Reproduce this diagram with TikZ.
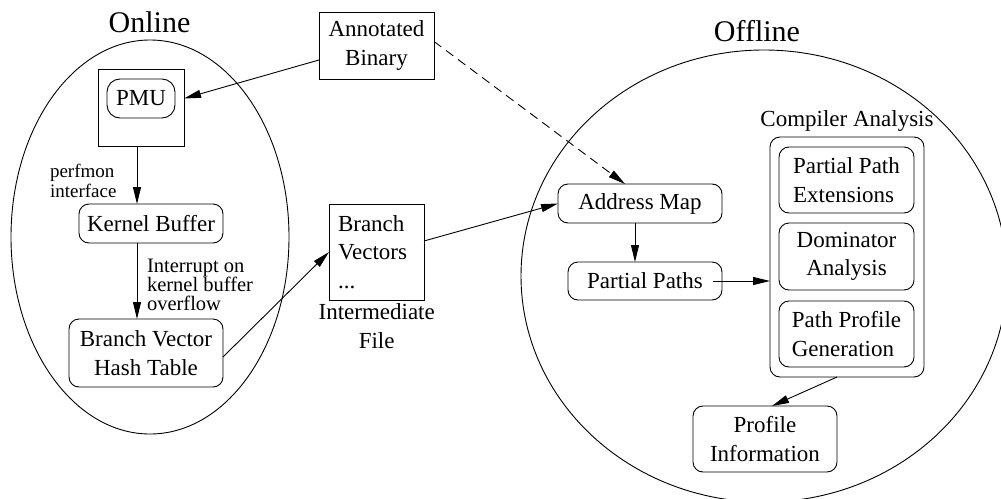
\documentclass[tikz,border=0pt]{standalone}
\usepackage{fontspec}
\setmainfont{Liberation Serif}
\usetikzlibrary{arrows.meta,calc}
\begin{document}
\begin{tikzpicture}[x=1pt,y=-1pt, line width=0.9pt,
 every node/.style={inner sep=0pt, outer sep=0pt},
 txt/.style={font=\fontsize{23}{28.5}\selectfont},
 rbox/.style={draw, rounded corners=10pt, txt, align=center},
 sbox/.style={draw, txt, align=center},
 arr/.style={-{Triangle[length=17pt,width=8pt]}},
 dashline/.style={dash pattern=on 9pt off 6pt},
]
\useasboundingbox (0,0) rectangle (1001,498);
\clip (0,0) rectangle (1001,498);
% containers
\draw (150,237) ellipse [x radius=139pt, y radius=197pt];
\draw (764,276) ellipse [x radius=243pt, y radius=226pt];
\node[font=\fontsize{30}{36}\selectfont] (online) at (149.5,22) {Online};
\node[font=\fontsize{30}{36}\selectfont] (offline) at (757,31) {Offline};
% online side
\node[draw, minimum width=86pt, minimum height=77pt] (pmubox) at (141,107.5) {};
\node[rbox, rounded corners=13pt, minimum width=68pt, minimum height=39pt] (pmu) at (141,98.5) {PMU};
\node[sbox, minimum width=115pt, minimum height=67pt] (annot) at (376.5,45.5) {Annotated\\Binary};
\node[rbox, minimum width=144pt, minimum height=39pt] (kb) at (151,223.5) {Kernel Buffer};
\node[rbox, minimum width=154pt, minimum height=68pt] (bvht) at (146,353) {Branch Vector\\Hash Table};
\node[draw, txt, align=left, text width=77pt, minimum width=95pt, minimum height=96pt] (bv) at (376.5,252) {Branch\\Vectors\\...};
\node[txt, align=center] (inter) at (376.7,326) {Intermediate\\File};
\node[font=\fontsize{19}{19.5}\selectfont, align=left, anchor=west] (perf) at (50,181) {perfmon\\interface};
\node[font=\fontsize{20.5}{19}\selectfont, align=left, anchor=west] (intr) at (147,285) {Interrupt on\\kernel buffer\\overflow};
% offline side
\node[rbox, minimum width=164pt, minimum height=39pt] (addr) at (640,203.5) {Address Map};
\node[rbox, minimum width=154pt, minimum height=38pt] (pp) at (645,281) {Partial Paths};
\node[draw, rounded corners=10pt, minimum width=154pt, minimum height=240pt] (ca) at (847,257) {};
\node[txt] (calbl) at (847,121) {Compiler Analysis};
\node[rbox, align=left, minimum width=135pt, minimum height=66pt] (ppe) at (846.5,180) {Partial Path\\Extensions};
\node[rbox, minimum width=135pt, minimum height=67pt] (dom) at (846.5,256.5) {Dominator\\Analysis};
\node[rbox, align=left, minimum width=135pt, minimum height=66pt] (ppg) at (846.5,334) {Path Profile\\Generation};
\node[rbox, minimum width=144pt, minimum height=66pt] (prof) at (765,439) {Profile\\Information};
% connectors
\draw[arr] ($(annot.west)+(0,14.5)$) -- (pmubox.east |- pmu.east);
\draw[arr] ([xshift=-4pt]pmubox.south) -- ([xshift=-4pt]pmubox.south |- kb.north);
\draw[arr] ([xshift=-4pt]pmubox.south |- kb.south) -- ([xshift=-4pt]pmubox.south |- bvht.north);
\draw[arr] ($(bvht.east)+(0,4)$) -- (bv.west);
\draw[arr] ($(bv.east)+(0,-11)$) -- (addr.west);
\draw[arr, dashline] ($(annot.east)+(0,-4)$) -- ($(addr.north)+(-15,0)$);
\draw[arr] ([xshift=-5pt]addr.south) -- ([xshift=-5pt]addr.south |- pp.north);
\draw[arr] ([xshift=-9pt]pp.east) -- (pp.east -| ca.west);
\draw[arr] ([xshift=-10pt]ca.south) -- ([xshift=7pt]prof.north);
\end{tikzpicture}
\end{document}
